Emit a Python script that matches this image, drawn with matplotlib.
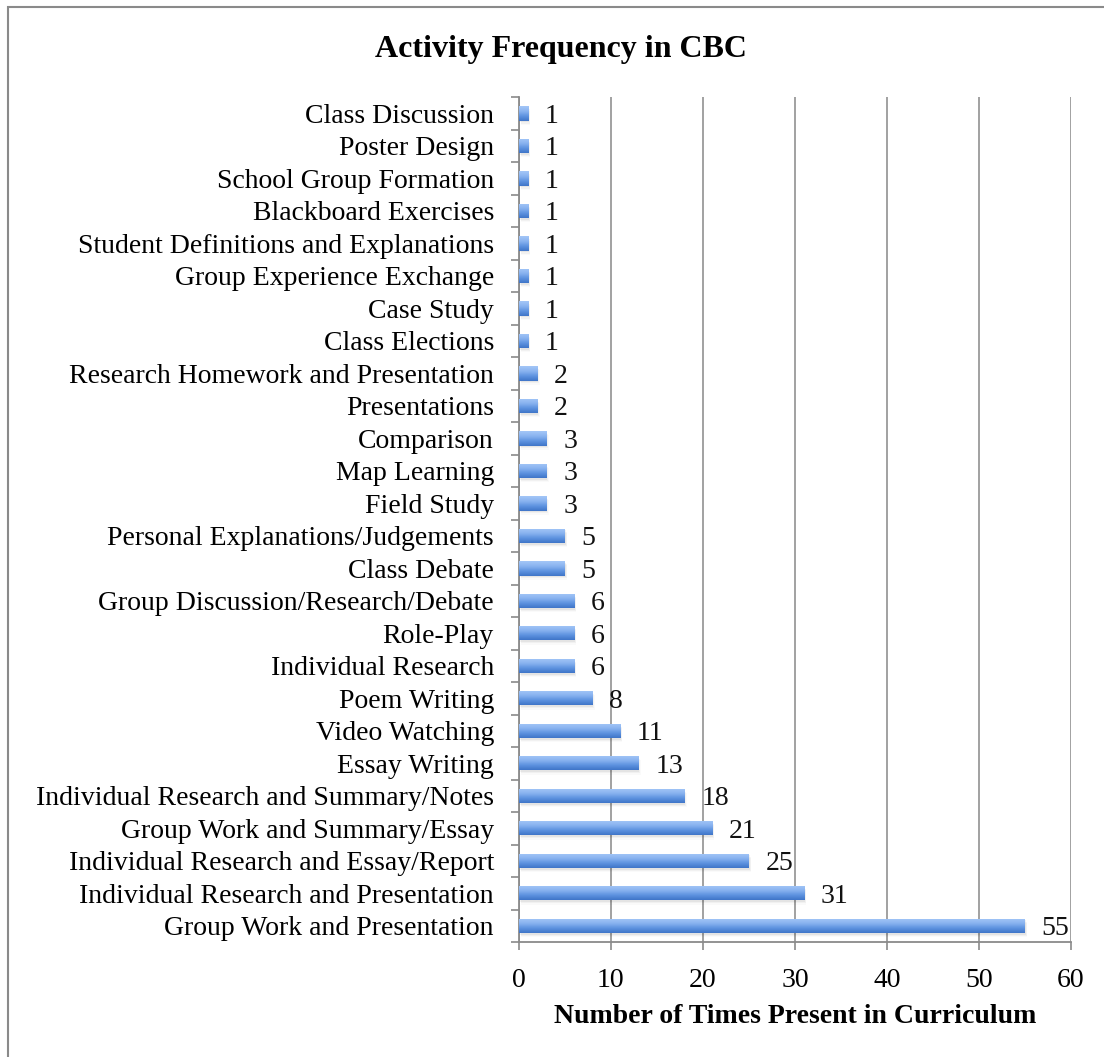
import numpy as np
import matplotlib
matplotlib.use("Agg")
import matplotlib.pyplot as plt
from matplotlib.patches import Rectangle

activities = [
    "Group Work and Presentation",
    "Individual Research and Presentation",
    "Individual Research and Essay/Report",
    "Group Work and Summary/Essay",
    "Individual Research and Summary/Notes",
    "Essay Writing",
    "Video Watching",
    "Poem Writing",
    "Individual Research",
    "Role-Play",
    "Group Discussion/Research/Debate",
    "Class Debate",
    "Personal Explanations/Judgements",
    "Field Study",
    "Map Learning",
    "Comparison",
    "Presentations",
    "Research Homework and Presentation",
    "Class Elections",
    "Case Study",
    "Group Experience Exchange",
    "Student Definitions and Explanations",
    "Blackboard Exercises",
    "School Group Formation",
    "Poster Design",
    "Class Discussion",
]
counts = [55, 31, 25, 21, 18, 13, 11, 8, 6, 6, 6, 5, 5, 3, 3, 3, 2, 2, 1, 1, 1, 1, 1, 1, 1, 1]
x_ticks = [0, 10, 20, 30, 40, 50, 60]

plt.rcParams['font.family'] = ['Liberation Serif', 'DejaVu Serif']

fig = plt.figure(figsize=(11.04, 10.57), dpi=100)
ax = fig.add_axes([0.470, 0.1088, 0.5, 0.7992])

# outer chart border (only left/top visible in the original)
fig.patches.append(Rectangle((8 / 1104, -0.1), 1.2, 1 - 7 / 1057 + 0.1,
                             transform=fig.transFigure, fill=False,
                             edgecolor='#8a8a8a', linewidth=1.5))

y = np.arange(len(activities))
bar_h = 0.44

# soft shadows
for yi, c in zip(y, counts):
    for k, a in enumerate([0.05, 0.035, 0.02]):
        ax.add_patch(Rectangle((0.1 + 0.08 * k, yi - bar_h / 2 - 0.05 - 0.04 * k), c, bar_h,
                               facecolor='#000000', alpha=a, edgecolor='none', zorder=2))

bars = ax.barh(y, counts, height=bar_h, color='none', edgecolor='none', zorder=3)

# vertical gradient in each bar: light top, darker bottom
grad = np.linspace(0, 1, 64).reshape(-1, 1)
cmap = matplotlib.colors.LinearSegmentedColormap.from_list(
    'bar', ['#3f75c8', '#5e93e0', '#8ab4f0', '#a4c6f7'])
for b in bars:
    x0, y0 = b.get_x(), b.get_y()
    w, h = b.get_width(), b.get_height()
    im = ax.imshow(grad, extent=(x0, x0 + w, y0, y0 + h), cmap=cmap,
                   aspect='auto', origin='lower', zorder=3, interpolation='bilinear')
    im.set_clip_path(b)

for yi, c in zip(y, counts):
    ax.annotate(str(c), (c, yi), xytext=(12, 0), textcoords='offset points',
                ha='left', va='center_baseline', fontsize=20, color='#111111', zorder=4)

ax.set_xlim(0, 60)
ax.set_ylim(-0.5, len(activities) - 0.5)
ax.set_xticks(x_ticks)
ax.set_xticklabels([str(t) for t in x_ticks], fontsize=20)
ax.set_yticks(y)
ax.set_yticklabels(activities, fontsize=20)
ax.set_yticks(np.arange(-0.5, len(activities), 1), minor=True)
ax.tick_params(axis='y', which='major', length=0, pad=18)
ax.tick_params(axis='y', which='minor', length=6, color='#8a8a8a', width=1.2)
ax.tick_params(axis='x', which='major', length=6, color='#8a8a8a', width=1.2, pad=13)

ax.grid(axis='x', color='#9a9a9a', linewidth=1.3, zorder=1)
ax.set_axisbelow(True)
for s in ['top', 'right']:
    ax.spines[s].set_visible(False)
for s in ['left', 'bottom']:
    ax.spines[s].set_color('#8a8a8a')
    ax.spines[s].set_linewidth(1.3)

ax.set_xlabel('Number of Times Present in Curriculum', fontsize=20,
              fontweight='bold', labelpad=8)
fig.text(0.508, 0.953, 'Activity Frequency in CBC', ha='center', va='center',
         fontsize=23, fontweight='bold')

fig.savefig('out.png', dpi=100)
